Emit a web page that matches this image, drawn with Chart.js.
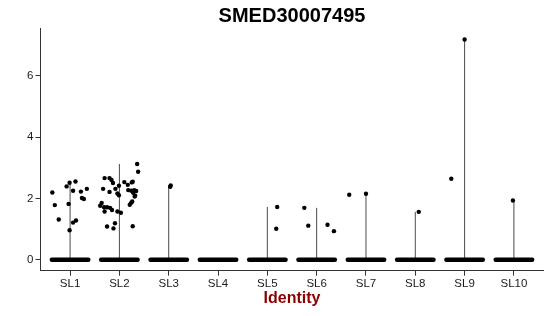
<!DOCTYPE html>
<html><head><meta charset="utf-8">
<script src="https://cdn.jsdelivr.net/npm/chart.js@4"></script>
<style>html,body{margin:0;padding:0;background:#fff}#wrap{width:550px;height:316px;position:relative}</style>
</head><body><div id="wrap"><canvas id="c" width="550" height="316"></canvas></div>
<script>
// ---- data ----
const categories = ['SL1','SL2','SL3','SL4','SL5','SL6','SL7','SL8','SL9','SL10'];
const yTicks = [0, 2, 4, 6];
const chartTitle = 'SMED30007495';
const xTitle = 'Identity';

// non-zero expression values per identity, with their horizontal jitter (category units)
const sl1Expr   = [2.19,1.78,1.31,2.39,2.51,2.55,2.25,1.82,2.22,2.31,2.01,1.98,1.21,1.28,0.96];
const sl1Jitter = [-0.36,-0.31,-0.23,-0.07,-0.01,0.11,0.06,-0.03,0.22,0.34,0.24,0.28,0.06,0.12,-0.01];
const sl2Expr   = [3.12,2.87,2.66,2.66,2.60,2.50,2.31,2.21,2.31,2.41,2.53,2.44,2.52,2.54,2.27,2.25,2.27,2.24,2.18,2.09,2.06,2.16,2.10,1.85,1.76,1.71,1.57,1.71,1.69,1.62,1.57,1.53,1.86,1.90,1.79,1.19,1.08,1.02,1.09];
const sl2Jitter = [0.36,0.38,-0.30,-0.20,-0.16,-0.13,-0.33,-0.20,-0.08,-0.01,0.10,0.17,0.25,0.27,0.18,0.24,0.30,0.34,0.28,0.32,0.31,-0.04,-0.01,-0.36,-0.39,-0.31,-0.30,-0.25,-0.19,-0.15,-0.04,0.03,0.24,0.26,0.21,-0.09,-0.25,-0.12,0.27];
const sl3Expr   = [2.42,2.38];
const sl3Jitter = [0.04,0.03];
const sl4Expr   = [];
const sl4Jitter = [];
const sl5Expr   = [1.72,1.01];
const sl5Jitter = [0.20,0.18];
const sl6Expr   = [1.69,1.11,1.14,0.93];
const sl6Jitter = [-0.25,-0.17,0.22,0.35];
const sl7Expr   = [2.12,2.15];
const sl7Jitter = [-0.34,0.0];
const sl8Expr   = [1.56];
const sl8Jitter = [0.07];
const sl9Expr   = [7.18,2.64];
const sl9Jitter = [0.0,-0.27];
const sl10Expr  = [1.93];
const sl10Jitter= [-0.02];

// ---- build chart ----
const exprByCat = [sl1Expr,sl2Expr,sl3Expr,sl4Expr,sl5Expr,sl6Expr,sl7Expr,sl8Expr,sl9Expr,sl10Expr];
const jitterByCat = [sl1Jitter,sl2Jitter,sl3Jitter,sl4Jitter,sl5Jitter,sl6Jitter,sl7Jitter,sl8Jitter,sl9Jitter,sl10Jitter];

const FONT = "'Liberation Sans', Arial, Helvetica, sans-serif";
const BAND_HALF = 0.37;

const pointData = [];
exprByCat.forEach((vals, i) => vals.forEach((v, k) => pointData.push({x: i + jitterByCat[i][k], y: v})));

const allMax = Math.max(...exprByCat.flat());
const yMin = -0.05 * allMax, yMax = 1.05 * allMax;

const datasets = [];
datasets.push({
  label: 'cells', data: pointData, order: 0,
  pointRadius: 2.2, pointHoverRadius: 2.2, pointBackgroundColor: '#000', pointBorderWidth: 0, showLine: false
});
categories.forEach((c, i) => {
  datasets.push({
    label: c + ' zero', order: 1, showLine: true, pointRadius: 0,
    data: [{x: i - BAND_HALF, y: 0}, {x: i + BAND_HALF, y: 0}],
    borderColor: '#000', borderWidth: 4.4, borderCapStyle: 'round'
  });
  const vals = exprByCat[i];
  if (vals.length) {
    datasets.push({
      label: c + ' violin', order: 2, showLine: true, pointRadius: 0,
      data: [{x: i, y: 0}, {x: i, y: Math.max(...vals)}],
      borderColor: '#4a4a4a', borderWidth: 1
    });
  }
});

new Chart(document.getElementById('c'), {
  type: 'scatter',
  data: { datasets },
  options: {
    responsive: false, animation: false, events: [],
    layout: { padding: { left: 0, right: 6.5, top: 0, bottom: 0 } },
    plugins: {
      legend: { display: false }, tooltip: { enabled: false },
      title: { display: true, fullSize: false, text: chartTitle, color: '#000',
        font: { family: FONT, size: 20, weight: 'bold' }, padding: { top: 4.5, bottom: 0 } }
    },
    scales: {
      x: {
        type: 'linear', min: -0.6, max: categories.length - 0.4,
        afterBuildTicks: s => { s.ticks = categories.map((c, i) => ({ value: i })); },
        afterFit: s => { s.height = 45.3; },
        ticks: { callback: v => categories[v], color: '#1a1a1a', padding: 1.5,
          font: { family: FONT, size: 11.5 }, maxRotation: 0, autoSkip: false },
        grid: { drawOnChartArea: false, drawTicks: true, tickLength: 5, color: '#333', lineWidth: 1 },
        border: { display: true, color: '#333', width: 1 },
        title: { display: true, text: xTitle, color: '#8b0000',
          font: { family: FONT, size: 16, weight: 'bold' }, padding: { top: 0, bottom: 7.4 } }
      },
      y: {
        type: 'linear', min: yMin, max: yMax,
        afterBuildTicks: s => { s.ticks = yTicks.map(v => ({ value: v })); },
        afterFit: s => { s.width = 40.5; },
        ticks: { color: '#1a1a1a', padding: 2, font: { family: FONT, size: 11.5 } },
        grid: { drawOnChartArea: false, drawTicks: true, tickLength: 5, color: '#333', lineWidth: 1 },
        border: { display: true, color: '#333', width: 1 }
      }
    }
  }
});
</script></body></html>
